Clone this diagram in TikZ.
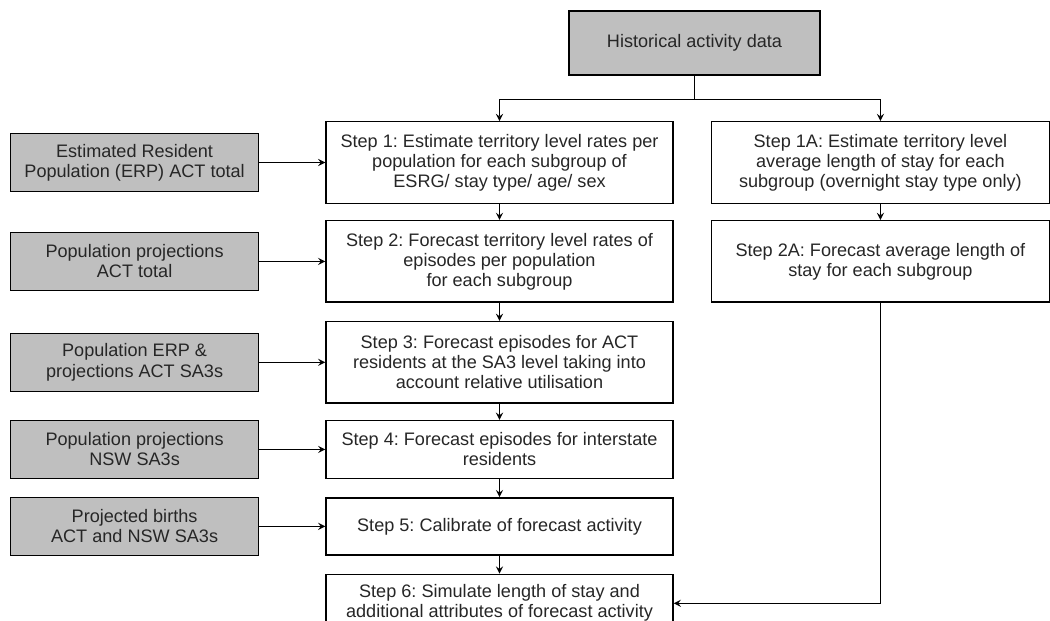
\documentclass[tikz,border=0pt]{standalone}
\usepackage{fontspec}
\setmainfont{Liberation Sans}
\usepackage{tikz}
\usetikzlibrary{shapes,arrows,positioning}
\frenchspacing

\begin{document}
\begin{tikzpicture}[
    node distance=0.34cm,
    stepbox/.style={rectangle, draw, line width=0.8pt, minimum width=6.94cm, minimum height=1.63cm, align=center, font=\fontsize{10.3}{11.4}\selectfont, text=black!85},
    inbox/.style={rectangle, draw, line width=0.8pt, fill=gray!50, minimum width=4.96cm, minimum height=1.16cm, align=center, font=\fontsize{10.3}{11.4}\selectfont, text=black!85},
    arrow/.style={->, >=stealth, line width=0.8pt}
]
    \useasboundingbox (0,0) rectangle (21,-12.42);

    \node[inbox, minimum width=5.02cm, minimum height=1.28cm] (hist) at (13.89,-0.86) {Historical activity data};

    % main column
    \node[stepbox] (step1) at (9.99,-3.25) {Step 1: Estimate territory level rates per\\population for each subgroup of\\ESRG/ stay type/ age/ sex};
    \node[stepbox, below=0.32cm of step1] (step2) {Step 2: Forecast territory level rates of\\episodes per population\\for each subgroup};
    \node[stepbox, below=0.36cm of step2] (step3) {Step 3: Forecast episodes for ACT\\residents at the SA3 level taking into\\account relative utilisation};
    \node[stepbox, below=0.32cm of step3, minimum height=1.16cm] (step4) {Step 4: Forecast episodes for interstate\\residents};
    \node[stepbox, below=0.36cm of step4, minimum height=1.14cm] (step5) {Step 5: Calibrate of forecast activity};
    \node[stepbox, below=0.36cm of step5, minimum height=1.16cm] (step6) {Step 6: Simulate length of stay and\\additional attributes of forecast activity};

    % length of stay column
    \node[stepbox, right=0.74cm of step1, minimum width=6.76cm] (step1A) {Step 1A: Estimate territory level\\average length of stay for each\\subgroup (overnight stay type only)};
    \node[stepbox, below=0.32cm of step1A, minimum width=6.76cm] (step2A) {Step 2A: Forecast average length of\\stay for each subgroup};

    % inputs
    \node[inbox, left=1.32cm of step1] (erp) {Estimated Resident\\Population (ERP) ACT total};
    \node[inbox, left=1.32cm of step2] (projact) {Population projections\\ACT total};
    \node[inbox, left=1.32cm of step3] (erpsa3) {Population ERP \&\\projections ACT SA3s};
    \node[inbox, left=1.32cm of step4] (projnsw) {Population projections\\NSW SA3s};
    \node[inbox, left=1.32cm of step5] (births) {Projected births\\ACT and NSW SA3s};

    \draw[line width=0.8pt] (hist.south) -- ++(0,-0.48) coordinate (split);
    \draw[arrow] (split) -| (step1.north);
    \draw[arrow] (split) -| (step1A.north);

    \draw[arrow] (step1) -- (step2);
    \draw[arrow] (step2) -- (step3);
    \draw[arrow] (step3) -- (step4);
    \draw[arrow] (step4) -- (step5);
    \draw[arrow] (step5) -- (step6);
    \draw[arrow] (step1A) -- (step2A);
    \draw[arrow] (step2A.south) |- (step6.east);

    \draw[arrow] (erp) -- (step1);
    \draw[arrow] (projact) -- (step2);
    \draw[arrow] (erpsa3) -- (step3);
    \draw[arrow] (projnsw) -- (step4);
    \draw[arrow] (births) -- (step5);
\end{tikzpicture}
\end{document}
